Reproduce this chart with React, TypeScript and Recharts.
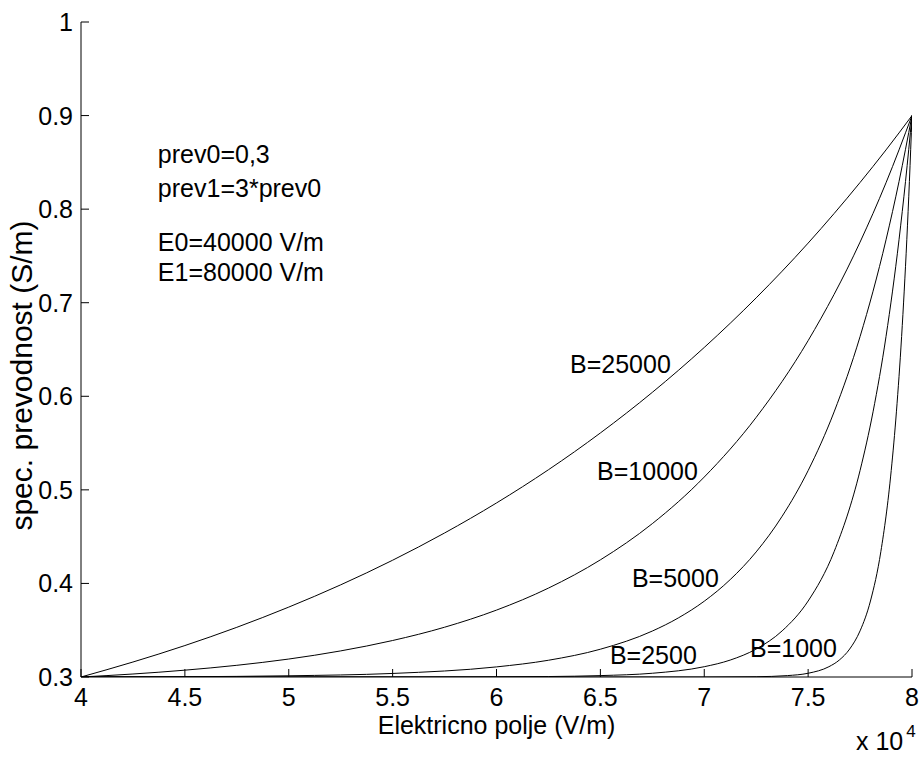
import React from 'react';
import { LineChart, Line, XAxis, YAxis, ReferenceDot, Label } from 'recharts';

const FONT = '"Liberation Sans", Arial, Helvetica, sans-serif';
const FS = 25;
const TICK = 8;

const xTicks = [4, 4.5, 5, 5.5, 6, 6.5, 7, 7.5, 8];
const yTicks = [0.3, 0.4, 0.5, 0.6, 0.7, 0.8, 0.9, 1];

// Field strength E (x 10^4 V/m) and conductivity (S/m) for each B
const e25000 = [4, 4.25, 4.5, 4.75, 5, 5.25, 5.5, 5.75, 6, 6.25, 6.5, 6.75, 7, 7.25, 7.5, 7.75, 7.875, 8];
const s25000 = [0.3, 0.316, 0.3336, 0.3531, 0.3747, 0.3985, 0.4248, 0.4539, 0.486, 0.5215, 0.5608, 0.6042, 0.6522, 0.7052, 0.7637, 0.8285, 0.8633, 0.9];

const e10000 = [4, 4.25, 4.5, 4.75, 5, 5.25, 5.5, 5.75, 6, 6.25, 6.5, 6.75, 7, 7.25, 7.5, 7.75, 7.875, 8];
const s10000 = [0.3, 0.3032, 0.3073, 0.3125, 0.3192, 0.3279, 0.339, 0.3532, 0.3715, 0.395, 0.4252, 0.4639, 0.5137, 0.5775, 0.6595, 0.7648, 0.8282, 0.9];

const e5000 = [4, 4.5, 5, 5.5, 6, 6.25, 6.5, 6.75, 6.875, 7, 7.125, 7.25, 7.375, 7.5, 7.625, 7.75, 7.875, 7.9375, 8];
const s5000 = [0.3, 0.3003, 0.3013, 0.3038, 0.3108, 0.3179, 0.3297, 0.3491, 0.3631, 0.381, 0.4041, 0.4337, 0.4718, 0.5206, 0.5833, 0.6638, 0.7672, 0.8295, 0.9];

const e2500 = [4, 5, 5.5, 6, 6.25, 6.5, 6.75, 7, 7.125, 7.25, 7.375, 7.5, 7.625, 7.75, 7.8125, 7.875, 7.9375, 7.96875, 8];
const s2500 = [0.3, 0.3, 0.3, 0.3002, 0.3005, 0.3015, 0.304, 0.311, 0.3181, 0.3299, 0.3493, 0.3812, 0.4339, 0.5207, 0.5834, 0.6639, 0.7673, 0.8295, 0.9];

const e1000 = [4, 7, 7.25, 7.4, 7.5, 7.6, 7.65, 7.7, 7.75, 7.8, 7.85, 7.9, 7.925, 7.95, 7.975, 7.9875, 8];
const s1000 = [0.3, 0.3, 0.3003, 0.3015, 0.304, 0.311, 0.3181, 0.3299, 0.3493, 0.3812, 0.4339, 0.5207, 0.5834, 0.6639, 0.7673, 0.8295, 0.9];

const curveNames = ['B=25000', 'B=10000', 'B=5000', 'B=2500', 'B=1000'];
const curveX = [e25000, e10000, e5000, e2500, e1000];
const curveY = [s25000, s10000, s5000, s2500, s1000];

// Text anchors (start of text, baseline) in data coordinates
const curveLabelX = [6.354, 6.484, 6.652, 6.546, 7.22];
const curveLabelY = [0.625, 0.5105, 0.3962, 0.3139, 0.3214];

const notes = ['prev0=0,3', 'prev1=3*prev0', 'E0=40000 V/m', 'E1=80000 V/m'];
const noteX = [4.37, 4.37, 4.37, 4.37];
const noteY = [0.849, 0.813, 0.7553, 0.7232];

const series = curveNames.map((name, i) => ({
  name,
  data: curveX[i].map((x, j) => ({ x, y: curveY[i][j] })),
}));

const textStyle = { fontFamily: FONT, fontSize: FS, fill: '#000' };

const BottomTick = (p: any) => (
  <g>
    <line x1={p.x} x2={p.x} y1={p.y} y2={p.y - TICK} stroke="#000" />
    <text x={p.x} y={p.y + 29} textAnchor="middle" style={textStyle}>
      {p.payload.value}
    </text>
  </g>
);

const TopTick = (p: any) => (
  <line x1={p.x} x2={p.x} y1={p.y} y2={p.y + TICK} stroke="#000" />
);

const LeftTick = (p: any) => (
  <g>
    <line x1={p.x} x2={p.x + TICK} y1={p.y} y2={p.y} stroke="#000" />
    <text x={p.x - 8} y={p.y + 9} textAnchor="end" style={textStyle}>
      {p.payload.value}
    </text>
  </g>
);

const RightTick = (p: any) => (
  <line x1={p.x} x2={p.x - TICK} y1={p.y} y2={p.y} stroke="#000" />
);

const XTitle = (p: any) => {
  const vb = p.viewBox;
  return (
    <g>
      <text x={vb.x + vb.width / 2} y={vb.y + 57} textAnchor="middle" style={textStyle}>
        Elektricno polje (V/m)
      </text>
      <text x={vb.x + vb.width - 56} y={vb.y + 73} style={textStyle}>
        x 10
        <tspan dx={3} dy={-13} style={{ fontSize: 17 }}>4</tspan>
      </text>
    </g>
  );
};

const YTitle = (p: any) => {
  const vb = p.viewBox;
  const cx = vb.x + 21;
  const cy = vb.y + vb.height / 2 + 26;
  return (
    <text
      x={cx}
      y={cy}
      transform={`rotate(-90, ${cx}, ${cy})`}
      textAnchor="middle"
      style={{ ...textStyle, fontSize: 30 }}
    >
      spec. prevodnost (S/m)
    </text>
  );
};

const textAt = (text: string) => (p: any) => (
  <text x={p.viewBox.x} y={p.viewBox.y} style={textStyle}>
    {text}
  </text>
);

export default function App() {
  return (
    <div style={{ position: 'absolute', left: 0, top: 0, width: 921, height: 764, background: '#fff' }}>
      <LineChart
        width={921}
        height={764}
        margin={{ top: 22, right: 9, bottom: 27, left: 11 }}
        style={{ fontFamily: FONT }}
      >
        <XAxis
          dataKey="x"
          type="number"
          domain={[4, 8]}
          ticks={xTicks}
          interval={0}
          tickSize={0}
          tickMargin={0}
          tick={BottomTick}
          height={60}
          axisLine={{ stroke: '#000' }}
          allowDataOverflow
        >
          <Label content={XTitle} />
        </XAxis>
        <XAxis
          xAxisId="top"
          orientation="top"
          dataKey="x"
          type="number"
          domain={[4, 8]}
          ticks={xTicks}
          interval={0}
          tickSize={0}
          tickMargin={0}
          tick={TopTick}
          height={0}
          axisLine={{ stroke: '#000' }}
          allowDataOverflow
        />
        <YAxis
          type="number"
          domain={[0.3, 1]}
          ticks={yTicks}
          interval={0}
          tickSize={0}
          tickMargin={0}
          tick={LeftTick}
          width={70}
          axisLine={{ stroke: '#000' }}
          allowDataOverflow
        >
          <Label content={YTitle} />
        </YAxis>
        <YAxis
          yAxisId="right"
          orientation="right"
          type="number"
          domain={[0.3, 1]}
          ticks={yTicks}
          interval={0}
          tickSize={0}
          tickMargin={0}
          tick={RightTick}
          width={0}
          axisLine={{ stroke: '#000' }}
          allowDataOverflow
        />
        {series.map((s) => (
          <Line
            key={s.name}
            data={s.data}
            dataKey="y"
            name={s.name}
            type="monotone"
            stroke="#000"
            strokeWidth={1}
            dot={false}
            activeDot={false}
            isAnimationActive={false}
          />
        ))}
        {curveNames.map((n, i) => (
          <ReferenceDot
            key={n}
            x={curveLabelX[i]}
            y={curveLabelY[i]}
            r={0}
            fill="none"
            stroke="none"
            label={textAt(n)}
          />
        ))}
        {notes.map((n, i) => (
          <ReferenceDot
            key={n}
            x={noteX[i]}
            y={noteY[i]}
            r={0}
            fill="none"
            stroke="none"
            label={textAt(n)}
          />
        ))}
      </LineChart>
    </div>
  );
}
